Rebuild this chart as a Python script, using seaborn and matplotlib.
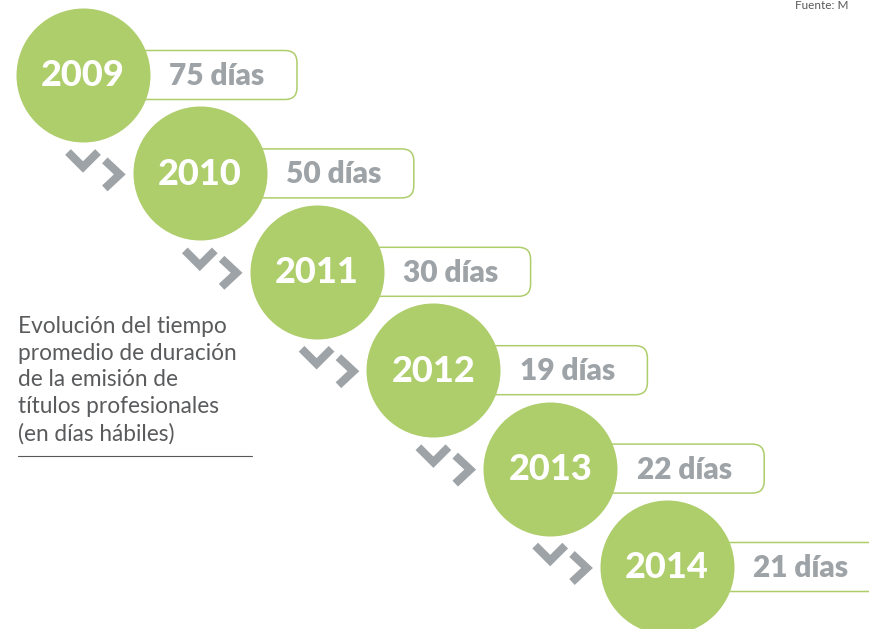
import matplotlib
matplotlib.use("Agg")
import matplotlib.pyplot as plt
from matplotlib.patches import FancyBboxPatch
import seaborn as sns
import pandas as pd

years = ["2009", "2010", "2011", "2012", "2013", "2014"]
days = [75, 50, 30, 19, 22, 21]
title_lines = [
    "Evolución del tiempo",
    "promedio de duración",
    "de la emisión de",
    "títulos profesionales",
    "(en días hábiles)",
]

GREEN = "#AECD6B"
GREY = "#9DA3A6"
TEXT = "#58595B"

sns.set_theme(style="white")
plt.rcParams["font.family"] = ["Lato", "DejaVu Sans"]

# layout in pixel units
x0, y0, dx, dy = 83, 75, 116.8, 98.4
radius = 67

df = pd.DataFrame({"year": years, "days": days})
df["cx"] = x0 + df.index * dx
df["cy"] = y0 + df.index * dy

fig = plt.figure(figsize=(8.69, 6.29), dpi=100)
ax = fig.add_axes([0, 0, 1, 1])

# rounded boxes behind circles
for _, r in df.iterrows():
    box = FancyBboxPatch((r.cx + 10, r.cy - 24.5), 204, 49,
                         boxstyle="round,pad=0,rounding_size=12",
                         facecolor="white", edgecolor=GREEN, lw=1.1, zorder=1)
    ax.add_patch(box)
    ax.text(r.cx + 134, r.cy + 1, f"{r.days} días", color=GREY,
            fontsize=21.5, fontweight="heavy", ha="center", va="center", zorder=4)

# circles
size = (2 * radius * 0.72) ** 2
sns.scatterplot(data=df, x="cx", y="cy", s=size, color=GREEN, linewidth=0,
                ax=ax, zorder=3, legend=False)
ax.set_xlim(0, 869)
ax.set_ylim(629, 0)
ax.axis("off")

for _, r in df.iterrows():
    ax.text(r.cx, r.cy + 1, r.year, color="white", fontsize=26,
            fontweight="black", ha="center", va="center", zorder=5)

# chevrons between consecutive years
for i in range(len(df) - 1):
    px, py = df.cx[i], df.cy[i]
    nx, ny = df.cx[i + 1], df.cy[i + 1]
    vx, vy = px, py + 92
    ax.plot([vx - 15, vx, vx + 15], [vy - 15, vy, vy - 15], color=GREY, lw=5.8,
            solid_joinstyle="miter", solid_capstyle="butt", zorder=2)
    gx, gy = nx - 80, ny + 1
    ax.plot([gx - 15, gx, gx - 15], [gy - 14, gy, gy + 14], color=GREY, lw=5.8,
            solid_joinstyle="miter", solid_capstyle="butt", zorder=2)

# description
ax.text(18, 316, "\n".join(title_lines), color="#5A5B5D", fontsize=16.3,
        ha="left", va="top", linespacing=1.33)
ax.plot([18, 252], [456, 456], color=TEXT, lw=0.8)

ax.text(795, 0, "Fuente: M", color=TEXT, fontsize=8.5, ha="left", va="top")

fig.savefig("out.png", dpi=100)
